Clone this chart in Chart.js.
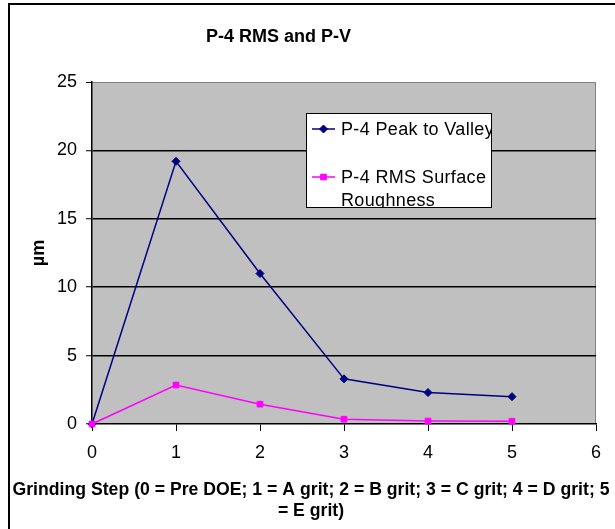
<!DOCTYPE html>
<html>
<head>
<meta charset="utf-8">
<script src="https://cdn.jsdelivr.net/npm/chart.js@4.4.0/dist/chart.umd.min.js"></script>
<style>
  html, body { margin: 0; padding: 0; background: #fff; }
  #wrap { position: relative; width: 615px; height: 529px; }
</style>
</head>
<body>
<div id="wrap"><canvas id="grafico" width="615" height="529"></canvas></div>
<script>
// grinding steps and the two measured series (µm)
const passos = [0, 1, 2, 3, 4, 5];
const picoVale = [0, 19.2, 11.0, 3.3, 2.3, 2.0];
const rmsRugosidade = [0, 2.85, 1.45, 0.35, 0.22, 0.2];

const ticksY = [0, 5, 10, 15, 20, 25];
const ticksX = [0, 1, 2, 3, 4, 5, 6];

const nomePicoVale = "P-4 Peak to Valley";
const nomeRms = ["P-4 RMS Surface", "Roughness"];
const tituloGrafico = "P-4 RMS and P-V";
const tituloX = ["Grinding Step (0 = Pre DOE; 1 = A grit; 2 = B grit; 3 = C grit; 4 = D grit; 5", "= E grit)"];
const tituloY = "µm";

const FONTE = "'Liberation Sans', Arial, sans-serif";

// moldura, fundo cinza do grafico, titulos e legenda desenhados a mao
const molduraPlugin = {
    id: "moldura",
    beforeDraw(chart) {
        const { ctx, chartArea: a } = chart;
        ctx.save();
        ctx.fillStyle = "#fff";
        ctx.fillRect(0, 0, chart.width, chart.height);

        ctx.fillStyle = "#000";
        ctx.fillRect(8, 3, chart.width, 2);
        ctx.fillRect(8, 3, 2, chart.height);

        ctx.fillStyle = "#c0c0c0";
        ctx.fillRect(a.left, a.top, a.width, a.height);
        ctx.strokeStyle = "#808080";
        ctx.lineWidth = 1;
        ctx.beginPath();
        ctx.moveTo(a.right - 0.5, a.top);
        ctx.lineTo(a.right - 0.5, a.bottom);
        ctx.stroke();

        // titulo
        ctx.fillStyle = "#000";
        ctx.font = "bold 18px " + FONTE;
        ctx.textAlign = "left";
        ctx.textBaseline = "alphabetic";
        ctx.fillText(tituloGrafico, 206, 42);

        // titulo eixo y
        ctx.save();
        ctx.translate(44, 253);
        ctx.rotate(-Math.PI / 2);
        ctx.font = "bold 18px " + FONTE;
        ctx.textAlign = "center";
        ctx.fillText(tituloY, 0, 0);
        ctx.restore();

        // titulo eixo x (comprimido para caber na largura)
        ctx.font = "bold 18px " + FONTE;
        const largura = ctx.measureText(tituloX[0]).width;
        const k = Math.min(1, 597 / largura);
        ctx.save();
        ctx.translate(311, 0);
        ctx.scale(k, 1);
        ctx.textAlign = "center";
        ctx.fillText(tituloX[0], 0, 495);
        ctx.fillText(tituloX[1], 0, 516);
        ctx.restore();
        ctx.restore();
    },
    afterDraw(chart) {
        const { ctx } = chart;
        const cx = 306, cy = 113, cw = 186, ch = 95;
        ctx.save();
        ctx.fillStyle = "#fff";
        ctx.fillRect(cx, cy, cw, ch);
        ctx.strokeStyle = "#000";
        ctx.lineWidth = 1;
        ctx.strokeRect(cx + 0.5, cy + 0.5, cw - 1, ch - 1);

        ctx.beginPath();
        ctx.rect(cx + 1, cy + 1, cw - 2, ch - 2);
        ctx.clip();

        const itens = [
            { ds: chart.data.datasets[0], y: 129, linhas: [nomePicoVale] },
            { ds: chart.data.datasets[1], y: 177, linhas: nomeRms }
        ];
        ctx.font = "18px " + FONTE;
        ctx.letterSpacing = "0.35px";
        ctx.textAlign = "left";
        ctx.textBaseline = "alphabetic";
        itens.forEach(it => {
            ctx.strokeStyle = it.ds.borderColor;
            ctx.fillStyle = it.ds.backgroundColor;
            ctx.lineWidth = 1.5;
            ctx.beginPath();
            ctx.moveTo(312, it.y);
            ctx.lineTo(335, it.y);
            ctx.stroke();
            ctx.lineWidth = 1;
            Chart.helpers.drawPoint(ctx, {
                pointStyle: it.ds.pointStyle,
                radius: it.ds.pointRadius,
                rotation: 0,
                borderWidth: 1
            }, 323.5, it.y);
            ctx.fillStyle = "#000";
            it.linhas.forEach((t, i) => ctx.fillText(t, 341, it.y + 6 + i * 23));
        });
        ctx.restore();
    }
};

const ctx = document.getElementById("grafico").getContext("2d");
new Chart(ctx, {
    type: "scatter",
    data: {
        datasets: [{
            label: nomePicoVale,
            data: passos.map((x, i) => ({ x: x, y: picoVale[i] })),
            showLine: true,
            borderColor: "#000080",
            backgroundColor: "#000080",
            borderWidth: 1.5,
            pointStyle: "rectRot",
            pointRadius: 4,
            pointBorderWidth: 1,
            clip: false,
            order: 1
        }, {
            label: nomeRms.join(" "),
            data: passos.map((x, i) => ({ x: x, y: rmsRugosidade[i] })),
            showLine: true,
            borderColor: "#ff00ff",
            backgroundColor: "#ff00ff",
            borderWidth: 1.5,
            pointStyle: "rect",
            pointRadius: 4,
            pointBorderWidth: 1,
            clip: false,
            order: 0
        }]
    },
    options: {
        responsive: false,
        animation: false,
        devicePixelRatio: 1,
        layout: { padding: { left: 52, top: 82, right: 19, bottom: 69 } },
        plugins: {
            legend: { display: false },
            title: { display: false },
            tooltip: { enabled: false }
        },
        scales: {
            x: {
                type: "linear",
                min: 0,
                max: 6,
                afterBuildTicks: s => { s.ticks = ticksX.map(v => ({ value: v })); },
                afterFit: s => { s.height = 36; },
                grid: { drawOnChartArea: false, drawTicks: true, tickLength: 7, tickColor: "#000", tickWidth: 1 },
                border: { color: "#000", width: 1.5 },
                ticks: { color: "#000", font: { family: FONTE, size: 18 }, padding: 11, maxRotation: 0 }
            },
            y: {
                min: 0,
                max: 25,
                afterBuildTicks: s => { s.ticks = ticksY.map(v => ({ value: v })); },
                afterFit: s => { s.width = 40; },
                grid: {
                    color: c => c.tick.value === 25 ? "#808080" : (c.tick.value === 0 ? "rgba(0,0,0,0)" : "#000"),
                    lineWidth: c => c.tick.value === 25 ? 1 : 1.5,
                    tickLength: 6,
                    tickColor: "#000",
                    tickWidth: 1
                },
                border: { color: "#000", width: 1.5 },
                ticks: { color: "#000", font: { family: FONTE, size: 18 }, padding: 9 }
            }
        }
    },
    plugins: [molduraPlugin]
});
</script>
</body>
</html>
